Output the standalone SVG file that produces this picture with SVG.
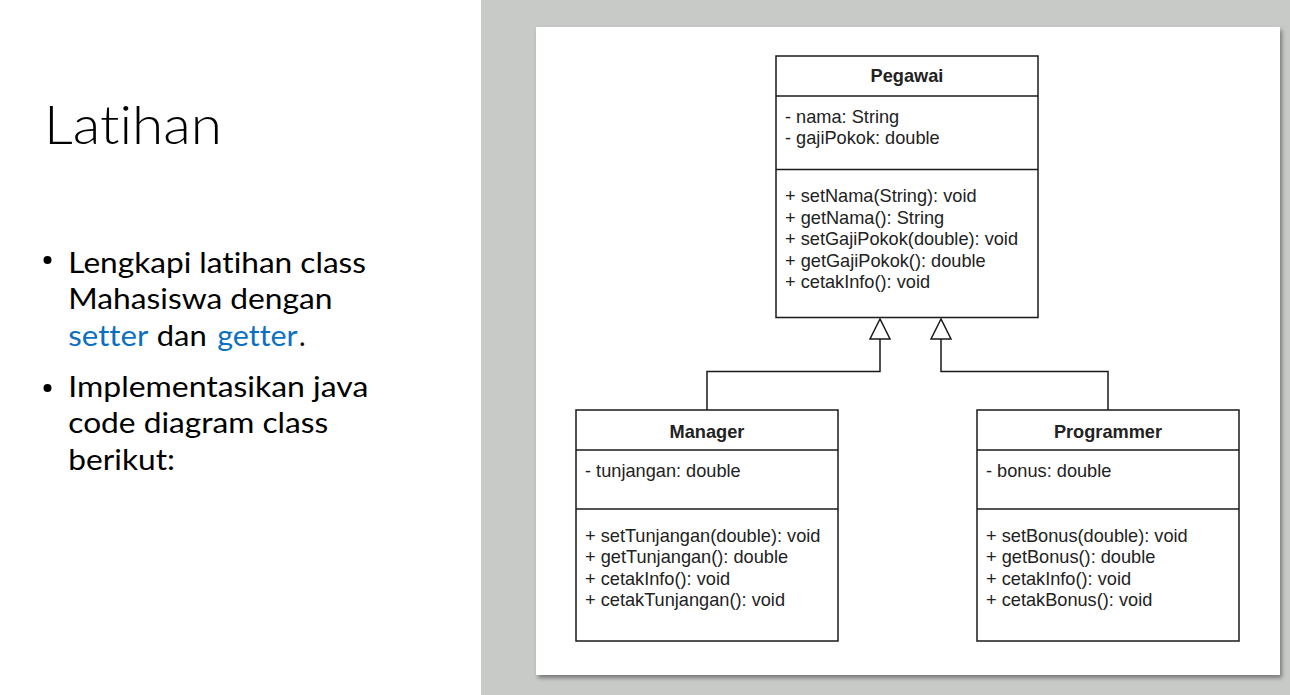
<svg xmlns="http://www.w3.org/2000/svg" width="1290" height="695" viewBox="0 0 1290 695">
<style>
.box{fill:#fff;stroke:#1a1a1a;stroke-width:1.5}
.div{stroke:#1a1a1a;stroke-width:1.5}
.uml{font-family:"Liberation Sans",Arial,sans-serif;font-size:18.2px;fill:#222}
.title{font-weight:bold;text-anchor:middle}
.conn{fill:none;stroke:#1a1a1a;stroke-width:1.5}
.slide{font-family:Lato,"Open Sans",sans-serif;fill:#000;font-variant-ligatures:none;font-feature-settings:"liga" 0,"clig" 0}
.blt{font-size:28px}
.blue{fill:#0b6fc2}
</style>
<defs>
<filter id="sh" x="-5%" y="-5%" width="110%" height="110%">
<feDropShadow dx="2" dy="3" stdDeviation="2" flood-color="#555" flood-opacity="0.7"/>
</filter>
</defs>
<rect x="0" y="0" width="1290" height="695" fill="#fff"/>
<g id="slide-text">
<text class="slide" x="44" y="144" font-size="54" font-weight="300" textLength="178" lengthAdjust="spacingAndGlyphs">Latihan</text>
<circle cx="47.5" cy="260" r="4" fill="#000"/>
<text class="slide blt" x="68.3" y="272.7" textLength="297.7" lengthAdjust="spacingAndGlyphs">Lengkapi latihan class</text>
<text class="slide blt" x="68.3" y="309" textLength="264.3" lengthAdjust="spacingAndGlyphs">Mahasiswa dengan</text>
<text class="slide blt blue" x="68.3" y="345.7" textLength="80" lengthAdjust="spacingAndGlyphs">setter</text>
<text class="slide blt" x="156.7" y="345.7" textLength="50" lengthAdjust="spacingAndGlyphs">dan</text>
<text class="slide blt blue" x="217.3" y="345.7" textLength="80.4" lengthAdjust="spacingAndGlyphs">getter</text>
<text class="slide blt" x="299" y="345.7">.</text>
<circle cx="47.5" cy="388" r="4" fill="#000"/>
<text class="slide blt" x="68.3" y="396.7" textLength="300" lengthAdjust="spacingAndGlyphs">Implementasikan java</text>
<text class="slide blt" x="68.3" y="433" textLength="260" lengthAdjust="spacingAndGlyphs">code diagram class</text>
<text class="slide blt" x="68.3" y="470" textLength="106.7" lengthAdjust="spacingAndGlyphs">berikut:</text>
</g>
<g id="panel">
<rect x="481" y="0" width="809" height="695" fill="#c8cac8"/>
<rect x="536" y="27" width="744" height="648" fill="#fff" filter="url(#sh)"/>
</g>
<g id="connectors">
<polyline class="conn" points="880,339 880,371.5 707,371.5 707,410"/>
<polygon class="conn" points="880,319 870,339 890,339" fill="#fff"/>
<polyline class="conn" points="941,339 941,371.5 1108,371.5 1108,410"/>
<polygon class="conn" points="941,319 931,339 951,339" fill="#fff"/>
</g>
<g id="pegawai">
<rect class="box" x="776" y="56" width="262" height="261.5"/>
<line class="div" x1="776" y1="96" x2="1038" y2="96"/>
<line class="div" x1="776" y1="169.5" x2="1038" y2="169.5"/>
<text class="uml title" x="907" y="82">Pegawai</text>
<text class="uml" x="785" y="122.5">- nama: String</text>
<text class="uml" x="785" y="144">- gajiPokok: double</text>
<text class="uml" x="785" y="202">+ setNama(String): void</text>
<text class="uml" x="785" y="223.5">+ getNama(): String</text>
<text class="uml" x="785" y="245">+ setGajiPokok(double): void</text>
<text class="uml" x="785" y="266.5">+ getGajiPokok(): double</text>
<text class="uml" x="785" y="288">+ cetakInfo(): void</text>
</g>
<g id="manager">
<rect class="box" x="576" y="410" width="262" height="231"/>
<line class="div" x1="576" y1="450" x2="838" y2="450"/>
<line class="div" x1="576" y1="509" x2="838" y2="509"/>
<text class="uml title" x="707" y="437.5">Manager</text>
<text class="uml" x="585" y="476.5">- tunjangan: double</text>
<text class="uml" x="585" y="541.5">+ setTunjangan(double): void</text>
<text class="uml" x="585" y="563">+ getTunjangan(): double</text>
<text class="uml" x="585" y="584.5">+ cetakInfo(): void</text>
<text class="uml" x="585" y="606">+ cetakTunjangan(): void</text>
</g>
<g id="programmer">
<rect class="box" x="977" y="410" width="262" height="231"/>
<line class="div" x1="977" y1="450" x2="1239" y2="450"/>
<line class="div" x1="977" y1="509" x2="1239" y2="509"/>
<text class="uml title" x="1108" y="437.5">Programmer</text>
<text class="uml" x="986" y="476.5">- bonus: double</text>
<text class="uml" x="986" y="541.5">+ setBonus(double): void</text>
<text class="uml" x="986" y="563">+ getBonus(): double</text>
<text class="uml" x="986" y="584.5">+ cetakInfo(): void</text>
<text class="uml" x="986" y="606">+ cetakBonus(): void</text>
</g>
</svg>
